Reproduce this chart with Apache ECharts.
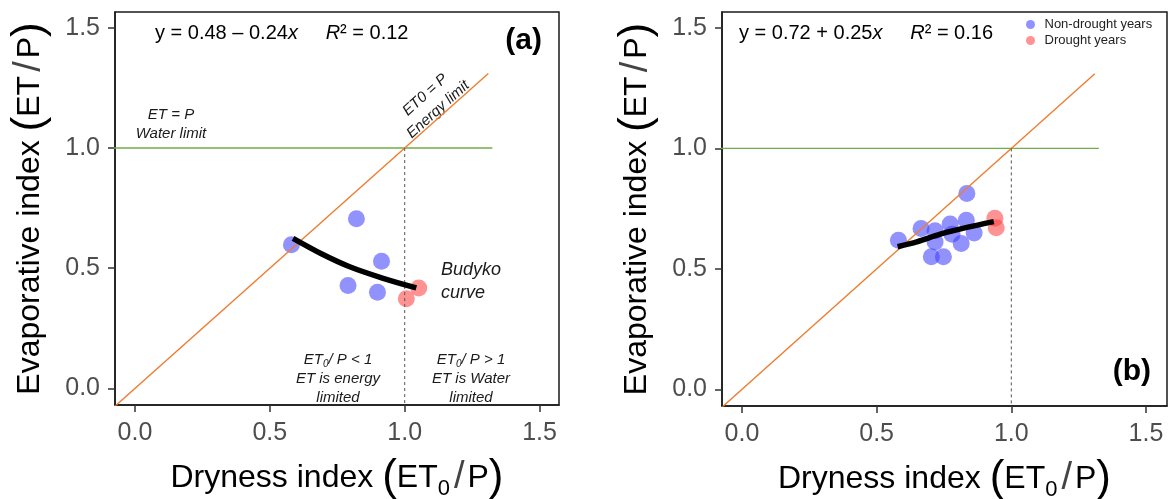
<!DOCTYPE html>
<html>
<head>
<meta charset="utf-8">
<title>Budyko</title>
<script src="https://cdn.jsdelivr.net/npm/echarts@6/dist/echarts.min.js"></script>
<style>
  html, body { margin: 0; padding: 0; background: #fff; }
  #chart { width: 1171px; height: 499px; }
</style>
</head>
<body>
<div id="chart"></div>
<script>
// panel (a)
const nonDroughtA = [[0.580, 0.598], [0.821, 0.706], [0.914, 0.529], [0.790, 0.428], [0.899, 0.400]]
const droughtA = [[1.052, 0.418], [1.006, 0.373]]
const budykoA = [[0.586, 0.624], [0.691, 0.560], [0.796, 0.506], [0.920, 0.458], [1.043, 0.418]]

// panel (b)
const nonDroughtB = [
  [0.835, 0.813], [0.581, 0.619], [0.665, 0.668], [0.717, 0.658],
  [0.773, 0.686], [0.833, 0.702], [0.862, 0.649], [0.717, 0.612],
  [0.780, 0.644], [0.814, 0.605], [0.703, 0.550], [0.748, 0.550]
]
const droughtB = [[0.939, 0.710], [0.944, 0.671]]
const budykoB = [[0.578, 0.592], [0.649, 0.612], [0.736, 0.644], [0.835, 0.672], [0.935, 0.696]]

// reference lines (same in both panels)
const energyLimit = [[-0.1, -0.1], [1.31, 1.31]]
const waterLimit = [[-0.1, 1], [1.325, 1]]
const dryLimit = [[1, 1], [1, -0.1]]

const tickValues = [0, 0.5, 1, 1.5]

const fontFamily = 'Liberation Sans, Arial, sans-serif'
const blue = 'rgba(60,60,255,0.7)'
const red = 'rgba(255,60,60,0.7)'
const orange = '#ED7D31'
const green = '#70AD47'

const chart = echarts.init(document.getElementById('chart'))

const titleRich = {
  t: { fontSize: 32, fontFamily, color: '#000', lineHeight: 44 },
  p: { fontSize: 44, fontFamily, color: '#000', lineHeight: 44 },
  s: { fontSize: 22, fontFamily, color: '#000', lineHeight: 22, verticalAlign: 'bottom' },
  sl: { fontSize: 38, fontFamily, color: '#444', lineHeight: 44, padding: [0, 3, 0, 4] }
}

function xAxisFor(gridIndex, max) {
  return {
    gridIndex,
    type: 'value',
    min: -0.074,
    max,
    name: '{t|Dryness index }{p|(}{t|ET}{s|0}{sl|/}{t|P}{p|)}',
    nameLocation: 'middle',
    nameGap: 51,
    nameTextStyle: { rich: titleRich },
    axisLine: { show: true, onZero: false, lineStyle: { color: '#1a1a1a', width: 1.5 } },
    axisTick: { customValues: tickValues, length: 7, lineStyle: { color: '#333', width: 1.5 } },
    axisLabel: {
      customValues: tickValues,
      formatter: v => v.toFixed(1),
      fontSize: 25, fontFamily, color: '#4d4d4d', margin: 16
    },
    splitLine: { show: false }
  }
}

function yAxisFor(gridIndex) {
  return {
    gridIndex,
    type: 'value',
    min: -0.069,
    max: 1.566,
    name: '{t|Evaporative index }{p|(}{t|ET}{sl|/}{t|P}{p|)}',
    nameLocation: 'middle',
    nameGap: 63,
    nameTextStyle: { rich: titleRich },
    axisLine: { show: true, onZero: false, lineStyle: { color: '#1a1a1a', width: 1.5 } },
    axisTick: { customValues: tickValues, length: 7, lineStyle: { color: '#333', width: 1.5 } },
    axisLabel: {
      customValues: tickValues,
      formatter: v => v.toFixed(1),
      fontSize: 25, fontFamily, color: '#4d4d4d', margin: 15
    },
    splitLine: { show: false }
  }
}

function panelSeries(i, nonDrought, drought, budyko) {
  return [
    { type: 'line', xAxisIndex: i, yAxisIndex: i, data: waterLimit, symbol: 'none', silent: true,
      lineStyle: { color: green, width: 1.4 } },
    { type: 'line', xAxisIndex: i, yAxisIndex: i, data: energyLimit, symbol: 'none', silent: true,
      lineStyle: { color: orange, width: 1.4 } },
    { type: 'line', xAxisIndex: i, yAxisIndex: i, data: dryLimit, symbol: 'none', silent: true,
      lineStyle: { color: '#555', width: 1, type: [3, 3] } },
    { name: 'Non-drought years', type: 'scatter', xAxisIndex: i, yAxisIndex: i, data: nonDrought,
      symbolSize: 17, itemStyle: { color: blue } },
    { name: 'Drought years', type: 'scatter', xAxisIndex: i, yAxisIndex: i, data: drought,
      symbolSize: 17, itemStyle: { color: red } },
    { type: 'line', xAxisIndex: i, yAxisIndex: i, data: budyko, smooth: 0.3, symbol: 'none', z: 5,
      lineStyle: { color: '#000', width: 5.5 } }
  ]
}

const eqRich = {
  n: { fontSize: 20, fontFamily, fill: '#000' },
  i: { fontSize: 20, fontFamily, fontStyle: 'italic', fill: '#000' }
}
const noteRich = {
  i: { fontSize: 15, fontFamily, fontStyle: 'italic', fill: '#1a1a1a', lineHeight: 18.7 },
  s: { fontSize: 10, fontFamily, fontStyle: 'italic', fill: '#1a1a1a', lineHeight: 12, verticalAlign: 'bottom' }
}
const italic = { fontSize: 15, fontFamily, fontStyle: 'italic', fill: '#1a1a1a' }

chart.setOption({
  animation: false,
  backgroundColor: '#fff',
  grid: [
    { left: 115, top: 12, width: 444, height: 393, outerBoundsMode: 'none', containLabel: false,
      show: true, borderColor: '#1a1a1a', borderWidth: 1.5 },
    { left: 722, top: 12, width: 445, height: 394, outerBoundsMode: 'none', containLabel: false,
      show: true, borderColor: '#1a1a1a', borderWidth: 1.5 }
  ],
  xAxis: [xAxisFor(0, 1.572), xAxisFor(1, 1.578)],
  yAxis: [yAxisFor(0), yAxisFor(1)],
  legend: {
    data: ['Non-drought years', 'Drought years'],
    orient: 'vertical',
    left: 1021,
    top: 13,
    icon: 'circle',
    itemWidth: 18,
    itemHeight: 9,
    itemGap: 3,
    selectedMode: false,
    textStyle: { fontSize: 13, fontFamily, color: '#222' }
  },
  series: [
    ...panelSeries(0, nonDroughtA, droughtA, budykoA),
    ...panelSeries(1, nonDroughtB, droughtB, budykoB)
  ],
  graphic: [
    // panel (a)
    { type: 'text', x: 155, y: 33, style: {
      text: '{n|y = 0.48 – 0.24}{i|x}{n|     }{i|R}{n|² = 0.12}', verticalAlign: 'middle', rich: eqRich } },
    { type: 'text', x: 542, y: 41, style: {
      text: '(a)', align: 'right', verticalAlign: 'middle', fontSize: 30, fontWeight: 'bold', fontFamily, fill: '#000' } },
    { type: 'text', x: 171, y: 124.5, style: Object.assign({
      text: 'ET = P\nWater limit', align: 'center', verticalAlign: 'middle', lineHeight: 19 }, italic) },
    { type: 'text', x: 431.7, y: 102.3, rotation: 0.73, style: Object.assign({
      text: 'ET0 = P\nEnergy limit', align: 'center', verticalAlign: 'middle', lineHeight: 19.5 }, italic) },
    { type: 'text', x: 441, y: 281, style: {
      text: 'Budyko\ncurve', verticalAlign: 'middle', lineHeight: 23,
      fontSize: 18, fontFamily, fontStyle: 'italic', fill: '#1a1a1a' } },
    { type: 'text', x: 338, y: 378.7, style: {
      text: '{i|ET}{s|0}{i|/ P < 1}\n{i|ET is energy}\n{i|limited}',
      align: 'center', verticalAlign: 'middle', rich: noteRich } },
    { type: 'text', x: 471, y: 378.7, style: {
      text: '{i|ET}{s|0}{i|/ P > 1}\n{i|ET is Water}\n{i|limited}',
      align: 'center', verticalAlign: 'middle', rich: noteRich } },
    // panel (b)
    { type: 'text', x: 739, y: 33, style: {
      text: '{n|y = 0.72 + 0.25}{i|x}{n|     }{i|R}{n|² = 0.16}', verticalAlign: 'middle', rich: eqRich } },
    { type: 'text', x: 1151, y: 372, style: {
      text: '(b)', align: 'right', verticalAlign: 'middle', fontSize: 30, fontWeight: 'bold', fontFamily, fill: '#000' } }
  ]
})
</script>
</body>
</html>
